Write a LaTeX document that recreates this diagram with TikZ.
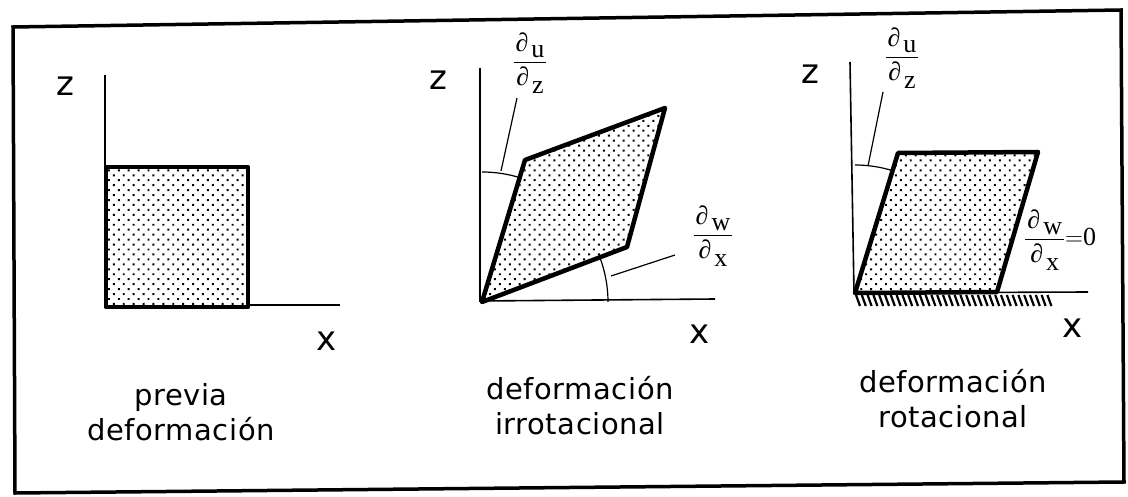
\documentclass[tikz,border=0pt]{standalone}
\usepackage{fontspec}
\setmainfont{Liberation Serif}
\newfontfamily\lblfont{DejaVu Sans}
\newfontfamily\capfont[LetterSpace=2]{DejaVu Sans}
\usetikzlibrary{patterns.meta}
\newcommand*{\mydfrac}{\displaystyle\frac}
\newcommand{\pdfrac}[2]{$\mydfrac{\mbox{\kern2pt∂\kern3pt\raisebox{-6pt}{#1}\kern2pt}}{\mbox{\kern2pt∂\kern3pt\raisebox{-8pt}{#2}\kern2pt}}$}
\begin{document}
\begin{tikzpicture}[x=1pt,y=-1pt,
  frame/.style={line width=3.5pt,line join=miter},
  axis/.style={line width=1.6pt},
  dotbox/.style={line width=4.5pt,line join=round,pattern={Dots[distance=7pt,angle=45,radius=1.4pt]}},
  leader/.style={line width=1.2pt},
  axlbl/.style={font=\lblfont\fontsize{34}{36}\selectfont,inner sep=0pt},
  caption/.style={font=\capfont\fontsize{29}{35}\selectfont,align=center,inner sep=0pt},
  frac/.style={font=\fontsize{26}{28}\selectfont,inner sep=0pt}]
\useasboundingbox (0,0) rectangle (1128,497);
% outer frame
\draw[frame] (13,27) -- (1121,10) -- (1124,482) -- (15,493) -- cycle;

% ---------- Panel 1 ----------
\draw[axis] (105,75) -- (105,308);
\draw[axis] (248,305) -- (340,305);
\draw[dotbox] (106,167) rectangle (248,307);
\node[axlbl] (z1) at (65,86) {z};
\node[axlbl] (x1) at (327,341) {x};
\node[caption] (c1) at (181,412) {previa\\deformación};

% ---------- Panel 2 ----------
\draw[axis] (480,68) -- (480,302);
\draw[axis] (480,301) -- (715,299);
\draw[dotbox] (482,302) -- (525,160) -- (665,108) -- (627,247) -- cycle;
\draw[leader] (482,172) arc[start angle=-90,end angle=-73,radius=130];
\draw[leader] (608,302) arc[start angle=0,end angle=-21,radius=126];
\coordinate (a2) at (501,171);
\coordinate (b2) at (611,276);
\node[frac] (f2a) at (530,63) {\pdfrac{u}{z}};
\node[frac] (f2b) at (713,236) {\pdfrac{w}{x}};
\draw[leader] (a2) -- (517,98);
\draw[leader] (b2) -- (675,255);
\node[axlbl] (z2) at (438,80) {z};
\node[axlbl] (x2) at (700,334) {x};
\node[caption] (c2) at (580,406) {deformación\\irrotacional};

% ---------- Panel 3 ----------
\draw[axis] (850,62) -- (854,293);
\draw[axis] (855,293) -- (1088,292);
\foreach \i in {0,...,33}
  \draw[line width=2.2pt] (856+\i*5.8,295) -- (860+\i*5.8,306);
\draw[dotbox] (855,293) -- (898,153) -- (1038,152) -- (997,292) -- cycle;
\draw[leader] (855,165) arc[start angle=-90,end angle=-73,radius=128];
\coordinate (a3) at (868,166);
\node[frac] (f3a) at (902,58) {\pdfrac{u}{z}};
\node[frac,anchor=west] (f3b) at (1024,240) {\pdfrac{w}{x}$=$0};
\draw[leader] (a3) -- (883,92);
\node[axlbl] (z3) at (810,74) {z};
\node[axlbl] (x3) at (1073,328) {x};
\node[caption] (c3) at (953,399) {deformación\\rotacional};
\end{tikzpicture}
\end{document}
